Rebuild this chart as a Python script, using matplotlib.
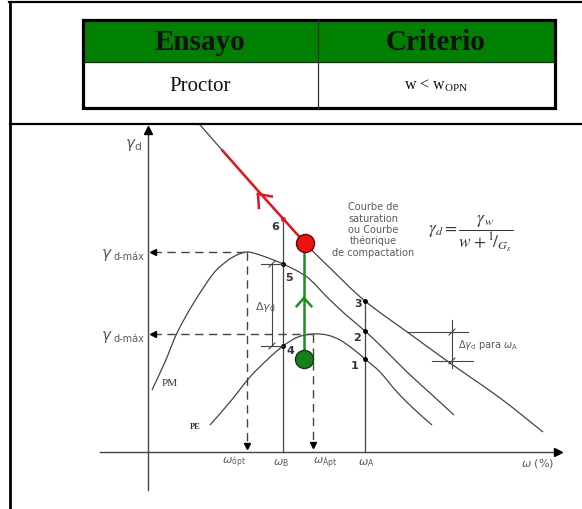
import numpy as np
import matplotlib
matplotlib.use("Agg")
import matplotlib.pyplot as plt
from matplotlib.patches import Rectangle, PathPatch
from matplotlib.path import Path

# table contents
headers = ["Ensayo", "Criterio"]
row = ["Proctor", r"w < w$_{\mathregular{OPN}}$"]

# compaction diagram, w (moisture) vs gamma_d, arbitrary units
sat_w = [46, 74, 112, 157, 182, 217, 262, 302, 352, 395]
sat_g = [334, 302, 259, 209, 184, 151, 118, 89, 54, 20]

pm_w = [4, 17, 29, 45, 65, 79, 89, 99, 112, 135, 159, 179, 197, 217, 237, 259, 282, 306]
pm_g = [62, 90, 119, 148, 178, 191, 197, 200, 197, 188, 175, 155, 138, 121, 102, 80, 59, 37]

pe_w = [62, 82, 102, 120, 135, 150, 165, 179, 192, 205, 217, 232, 249, 266, 284]
pe_g = [27, 50, 75, 93, 106, 115, 118, 117, 112, 103, 93, 80, 60, 43, 27]

w_opt, gd_max_pm = 99, 200
w_apt, gd_max_pe = 165, 118
w_B, w_A = 135, 217
w_state = 156
gd_wet = 93

ink = "#444444"
txt = "#5a5a5a"

fig = plt.figure(figsize=(5.82, 5.09), dpi=100)
fig.patch.set_facecolor("white")

# frame + table in pixel coordinates
ax0 = fig.add_axes([0, 0, 1, 1])
ax0.set_xlim(0, 582)
ax0.set_ylim(509, 0)
ax0.axis("off")

ax0.plot([9, 582], [2, 2], color="black", lw=1.6)
ax0.plot([10, 10], [2, 509], color="black", lw=2.0)
ax0.plot([10, 582], [123.5, 123.5], color="black", lw=1.6)

ax0.add_patch(Rectangle((82.5, 19.5), 472, 42.5, facecolor="#008000", edgecolor="none"))
ax0.plot([82.5, 554.5], [62, 62], color="#222222", lw=0.9)
ax0.plot([318, 318], [19.5, 108], color="#333333", lw=0.9)
ax0.add_patch(Rectangle((82.5, 19.5), 472, 88.5, facecolor="none", edgecolor="black", lw=2.3))

col_x = [200, 436]
for cx, h in zip(col_x, headers):
    ax0.text(cx, 42, h, ha="center", va="center", fontsize=21, fontweight="bold",
             family="Liberation Serif", color="#111111")
ax0.text(col_x[0], 86, row[0], ha="center", va="center", fontsize=15,
         family="Liberation Serif", color="#111111")
ax0.text(col_x[1], 86, row[1], ha="center", va="center", fontsize=11.5,
         family="Liberation Serif", color="#111111")

# diagram axes: 1 unit = 1 pixel, origin at the axis crossing
ax = fig.add_axes([12 / 582, 0, 570 / 582, 384 / 509])
ax.set_xlim(-136, 434)
ax.set_ylim(-57, 327)
ax.axis("off")


def smooth(xs, ys, **kw):
    # Catmull-Rom spline through the points, drawn as cubic Beziers
    p = np.column_stack([xs, ys]).astype(float)
    p = np.vstack([p[0], p, p[-1]])
    verts = [p[1]]
    codes = [Path.MOVETO]
    for i in range(1, len(p) - 2):
        c1 = p[i] + (p[i + 1] - p[i - 1]) / 6
        c2 = p[i + 1] - (p[i + 2] - p[i]) / 6
        verts += [c1, c2, p[i + 1]]
        codes += [Path.CURVE4] * 3
    ax.add_patch(PathPatch(Path(verts, codes), facecolor="none", **kw))


# axes with arrows
ax.plot([0, 0], [-38, 322], color=ink, lw=1.0)
ax.plot([-48, 410], [0, 0], color=ink, lw=1.0)
ax.plot([0], [322], marker="^", color="black", ms=6)
ax.plot([410], [0], marker=">", color="black", ms=6)

# curves
smooth(sat_w, sat_g, edgecolor=ink, lw=0.9)
smooth(pm_w, pm_g, edgecolor=ink, lw=0.9)
smooth(pe_w, pe_g, edgecolor=ink, lw=0.9)

# dashed guides to the maxima
dash = dict(color=ink, lw=1.0, dashes=(6, 4))
ax.plot([5, w_opt], [gd_max_pm, gd_max_pm], **dash)
ax.plot([5, w_apt], [gd_max_pe, gd_max_pe], **dash)
ax.plot([w_opt, w_opt], [gd_max_pm, 7], **dash)
ax.plot([w_apt, w_apt], [gd_max_pe, 8], **dash)
for x, y, m in [(5, gd_max_pm, "<"), (5, gd_max_pe, "<"), (w_opt, 6, "v"), (w_apt, 7, "v")]:
    ax.plot([x], [y], marker=m, color="black", ms=4.5)

# points on the verticals wB and wA
g6 = np.interp(w_B, sat_w, sat_g)
g5 = np.interp(w_B, pm_w, pm_g)
g4 = np.interp(w_B, pe_w, pe_g)
g3 = np.interp(w_A, sat_w, sat_g)
g2 = np.interp(w_A, pm_w, pm_g)
g1 = np.interp(w_A, pe_w, pe_g)
ax.plot([w_B, w_B], [0, g6], color=ink, lw=0.9)
ax.plot([w_A, w_A], [0, g3], color=ink, lw=0.9)
ax.plot([w_B, w_B, w_A, w_A, w_A], [g5, g4, g3, g2, g1], "o", color="black", ms=2.5)
ax.plot([w_B], [g6], "o", color="#dd2222", ms=2.5)

num = dict(fontsize=8, fontweight="bold", color="#333333", ha="center", va="center")
for (x, y), s in zip([(w_A - 10, g1 - 7), (w_A - 8, g2 - 7), (w_A - 7, g3 - 3),
                      (w_B + 7, g4 - 5), (w_B + 6, g5 - 14), (w_B - 8, g6 - 8)],
                     ["1", "2", "3", "4", "5", "6"]):
    ax.text(x, y, s, **num)

# delta gamma between 4 and 5
xb = w_B - 11
ax.plot([xb, xb], [g4, g5], color=ink, lw=0.8)
for g in (g4, g5):
    ax.plot([w_B - 22, w_B], [g, g], color=ink, lw=0.8)
    ax.plot([xb - 3, xb + 3], [g - 3, g + 3], color=ink, lw=0.8)
ax.text(w_B - 18, (g4 + g5) / 2 - 2, r"$\Delta\gamma_\mathrm{d}$", fontsize=8, color=txt,
        ha="center", va="center", math_fontfamily="dejavusans")

# delta gamma for wA
xr = 304
ax.plot([259, 320], [120, 120], color=ink, lw=0.8)
ax.plot([284, 325], [91, 91], color=ink, lw=0.8)
ax.plot([xr, xr], [84, 132], color=ink, lw=0.8)
for g in (120, 91):
    ax.plot([xr - 3, xr + 3], [g - 3, g + 3], color=ink, lw=0.8)
ax.text(310, 107, r"$\Delta\gamma_\mathrm{d}$ para $\omega_\mathrm{A}$", fontsize=7, color=txt,
        ha="left", va="center", math_fontfamily="dejavusans")


def chevron(x, y, dx, dy, length, spread, **kw):
    back = np.arctan2(dy, dx) + np.pi
    for s in (1, -1):
        a = back + s * np.radians(spread)
        ax.plot([x, x + length * np.cos(a)], [y, y + length * np.sin(a)], **kw)


# path of the sample: wet state up to saturation, then along it
red = "#e3141c"
green = "#1b901b"
ax.plot(sat_w[1:4], sat_g[1:4], color=red, lw=1.8, solid_capstyle="round")
chevron(110, 258, sat_w[1] - sat_w[3], sat_g[1] - sat_g[3], 14, 38, color=red, lw=1.8)
ax.plot([w_state, w_state], [gd_wet, sat_g[3]], color=green, lw=1.8)
chevron(w_state, 154, 0, 1, 11, 42, color=green, lw=1.8)
ax.plot([sat_w[3]], [sat_g[3]], "o", ms=13, mfc="#ee1111", mec="#6a0000", mew=1.0)
ax.plot([w_state], [gd_wet], "o", ms=13, mfc="#17801a", mec="#0b3d0b", mew=1.0)

# labels
lab = dict(color=txt, math_fontfamily="dejavusans")
ax.text(-15, 307, r"$\gamma_\mathrm{d}$", fontsize=11, ha="center", va="center", **lab)
for g in (gd_max_pm, gd_max_pe):
    ax.text(-35, g - 3, r"$\gamma$", fontsize=11, ha="right", va="center", **lab)
    ax.text(-34, g - 5, "d-máx", fontsize=7, ha="left", va="center", color=txt)
ax.text(14, 69, "PM", fontsize=8, family="Liberation Serif", color="#333333", ha="left", va="center")
ax.text(42, 25, "PE", fontsize=6, family="Liberation Serif", fontweight="bold", color="#333333",
        ha="left", va="center")

for x, s in [(86, r"$\omega_\mathrm{ópt}$"), (133, r"$\omega_\mathrm{B}$"),
             (177, r"$\omega_\mathrm{Ápt}$"), (218, r"$\omega_\mathrm{A}$"),
             (390, r"$\omega$ (%)")]:
    ax.text(x, -11, s, fontsize=8, ha="center", va="center", **lab)

ax.text(225, 222, "Courbe de\nsaturation\nou Courbe\nthéorique\nde compactation",
        fontsize=7, color=txt, ha="center", va="center", multialignment="center", linespacing=1.15)
ax.text(280, 218, r"$\gamma_d = \dfrac{\gamma_w}{w + {}^{1}\!/_{G_s}}$", fontsize=12.5,
        color="#333333", ha="left", va="center", math_fontfamily="stix")

fig.savefig("out.png", dpi=100, facecolor="white")
